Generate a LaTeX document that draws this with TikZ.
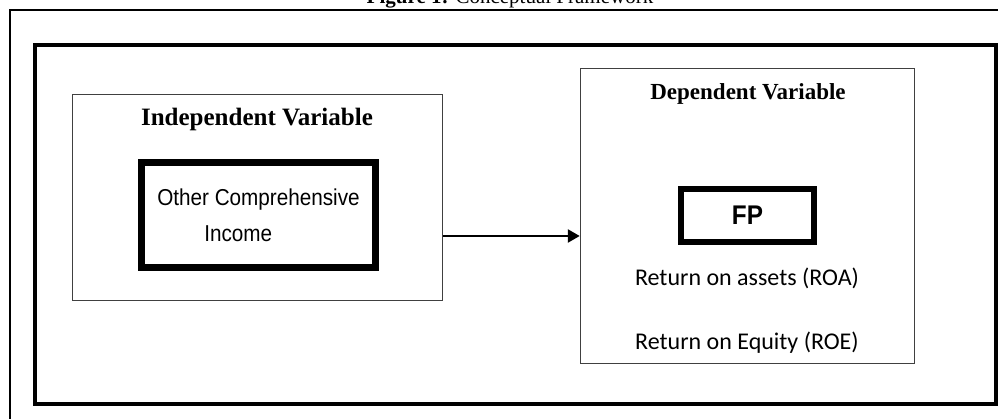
\documentclass[tikz,border=0pt]{standalone}
\usepackage{fontspec}
\setmainfont{Liberation Serif}
\newfontfamily\narrowsf[FakeStretch=0.9]{Liberation Sans}
\newfontfamily\calibrisf{Carlito}
\usetikzlibrary{arrows.meta,positioning}

\begin{document}
\begin{tikzpicture}[x=1pt,y=1pt,>={Triangle[length=12pt,width=13pt]},
 thinbox/.style={draw=black!75,line width=1.5pt,inner sep=0pt},
 thickbox/.style={draw,line width=7pt,inner sep=0pt},
 heading/.style={font=\fontsize{24}{28}\selectfont\bfseries},
 item/.style={font=\calibrisf\fontsize{24}{28}\selectfont}]
 \useasboundingbox (0,0) rectangle (998,419);
 \node[anchor=base,font=\fontsize{21}{24}\selectfont] (title) at (510,415.5)
 {\textbf{Figure 1:} Conceptual Framework};
 \draw[line width=1.4pt] (998,409) -- (10,409) -- (10,0);
 \draw[line width=4pt] (35,15) rectangle (996,374);

 \node[thinbox,minimum width=370pt,minimum height=206pt] (indep) at (257.5,221.5) {};
 \node[heading,font=\fontsize{25}{28}\selectfont\bfseries] (indeptitle) at (257,300) {Independent Variable};
 \node[thickbox,minimum width=234pt,minimum height=105pt,align=left,
 font=\narrowsf\fontsize{23}{36}\selectfont] (oci) at (258.5,204)
 {Other Comprehensive\\\hspace*{47pt}Income};

 \node[thinbox,minimum width=334pt,minimum height=295pt] (dep) at (747.5,203) {};
 \node[heading,font=\fontsize{23}{28}\selectfont\bfseries] (deptitle) at (748,325) {Dependent Variable};
 \node[thickbox,line width=6pt,minimum width=133pt,minimum height=53pt,
 font=\narrowsf\fontsize{27}{30}\selectfont\bfseries] (fp) at (747.5,203.5) {FP};
 \node[item] (roa) at (747,141) {Return on assets (ROA)};
 \begin{scope}
 \clip ([yshift=11pt]dep.south west) rectangle (dep.north east);
 \node[item] (roe) at (747,76) {Return on Equity (ROE)};
 \end{scope}

 \coordinate (src) at ([yshift=-38.5pt]indep.east);
 \draw[->,line width=2.6pt] (src) -- (src -| dep.west);
\end{tikzpicture}
\end{document}
